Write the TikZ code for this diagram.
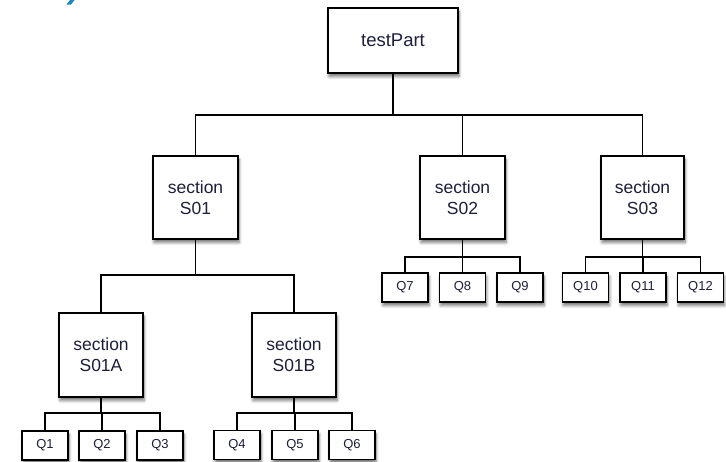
\documentclass[tikz,border=0pt]{standalone}
\usepackage{fontspec}
\setmainfont{Liberation Sans}
\usetikzlibrary{shadows,shadows.blur}
\definecolor{txt}{HTML}{1E1E3C}
\definecolor{bluefrag}{HTML}{1A88BF}
\tikzset{
  shad/.style={blur shadow={shadow xshift=1pt,shadow yshift=-3.5pt,shadow blur radius=3pt,shadow blur steps=6,shadow opacity=55}},
  bigbox/.style={draw=black,line width=1.6pt,fill=white,shad,inner sep=0pt,
    align=center,text=txt,font=\fontsize{17.5}{21}\selectfont},
  qbox/.style={draw=black,line width=1.5pt,fill=white,shad,inner sep=0pt,
    minimum width=46pt,minimum height=29pt,text=txt,font=\fontsize{13}{15}\selectfont},
  conn/.style={draw=black,line width=1.3pt},
}
\begin{document}
\begin{tikzpicture}[x=1pt,y=-1pt]
\useasboundingbox (0,0) rectangle (726,461);
\fill[bluefrag] (66.5,4.5) -- (70,0) -- (74.5,0) -- (71,4.5) -- cycle;

\coordinate (b0) at (0,115);
\coordinate (b1) at (0,275);
\coordinate (b2) at (0,257);
\coordinate (b3) at (0,413);

\node[bigbox,minimum width=130pt,minimum height=65pt,font=\fontsize{18.5}{21}\selectfont] (tp) at (393,40.5) {testPart};
\node[bigbox,minimum width=85pt,minimum height=83pt] (s01) at (195.5,197.5) {section\\S01};
\node[bigbox,minimum width=85pt,minimum height=83pt] (s02) at (462.5,197.5) {section\\S02};
\node[bigbox,minimum width=83pt,minimum height=83pt] (s03) at (642.5,197.5) {section\\S03};
\node[bigbox,minimum width=84pt,minimum height=84pt] (s01a) at (101,355) {section\\S01A};
\node[bigbox,minimum width=84pt,minimum height=84pt] (s01b) at (294,355) {section\\S01B};

\node[qbox] (q1) at (45,445.5) {Q1};
\node[qbox] (q2) at (102,445.5) {Q2};
\node[qbox] (q3) at (160,445.5) {Q3};
\node[qbox] (q4) at (237,445) {Q4};
\node[qbox] (q5) at (295,445) {Q5};
\node[qbox] (q6) at (352,445) {Q6};
\node[qbox] (q7) at (405,287.5) {Q7};
\node[qbox] (q8) at (462.5,287.5) {Q8};
\node[qbox] (q9) at (520,287.5) {Q9};
\node[qbox] (q10) at (585.5,287.5) {Q10};
\node[qbox] (q11) at (643,287.5) {Q11};
\node[qbox] (q12) at (700.5,287.5) {Q12};

\foreach \c in {s01,s02,s03}
  \draw[conn] (tp.south) -- (tp.south |- b0) -| (\c.north);
\foreach \c in {s01a,s01b}
  \draw[conn] (s01.south) -- (s01.south |- b1) -| (\c.north);
\foreach \c in {q7,q8,q9}
  \draw[conn] (s02.south) -- (s02.south |- b2) -| (\c.north);
\foreach \c in {q10,q11,q12}
  \draw[conn] (s03.south) -- (s03.south |- b2) -| (\c.north);
\foreach \c in {q1,q2,q3}
  \draw[conn] (s01a.south) -- (s01a.south |- b3) -| (\c.north);
\foreach \c in {q4,q5,q6}
  \draw[conn] (s01b.south) -- (s01b.south |- b3) -| (\c.north);
\end{tikzpicture}
\end{document}
